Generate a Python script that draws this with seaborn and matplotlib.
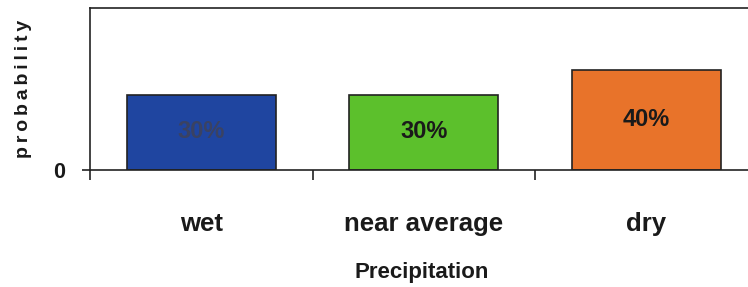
import matplotlib
matplotlib.use("Agg")
import matplotlib.pyplot as plt
import seaborn as sns
import pandas as pd

categories = ["wet", "near average", "dry"]
probabilities = [30, 30, 40]
bar_labels = ["30%", "30%", "40%"]
colors = ["#1f45a0", "#5cc02c", "#e8732a"]
label_colors = ["#3a4262", "#1a1a1a", "#1a1a1a"]

sns.set_theme(style="white")
plt.rcParams['font.family'] = ['Liberation Sans', 'DejaVu Sans']

df = pd.DataFrame({"cat": categories, "p": probabilities})

fig = plt.figure(figsize=(7.48, 2.87), dpi=100)
ax = fig.add_axes([90/748, 117/287, 667.5/748, 162/287])

sns.barplot(data=df, x="cat", y="p", hue="cat", palette=colors, legend=False,
            width=0.67, edgecolor="#222222", linewidth=1.2, saturation=1, ax=ax)

ax.set_xlim(-0.5, 2.5)
ax.set_ylim(0, 65)

for i, (v, t) in enumerate(zip(probabilities, bar_labels)):
    ax.text(i, v * 0.51, t, ha="center", va="center", fontsize=17,
            fontweight="bold", color=label_colors[i])

for s in ["left", "top", "bottom", "right"]:
    ax.spines[s].set_visible(True)
    ax.spines[s].set_color("#222222")
    ax.spines[s].set_linewidth(1.2)

ax.set_xticks([-0.5, 0.5, 1.5, 2.5])
ax.set_xticklabels([])
ax.tick_params(axis="x", which="major", direction="out", length=7.5, width=1.2,
               color="#222222", bottom=True)
ax.set_xticks([0, 1, 2], minor=True)
ax.set_xticklabels(categories, minor=True, fontsize=18.5, fontweight="bold",
                   color="#1a1a1a")
ax.tick_params(axis="x", which="minor", length=0, pad=30)

ax.set_yticks([0])
ax.set_yticklabels(["0"], fontsize=15.5, fontweight="bold", color="#1a1a1a")
ax.tick_params(axis="y", direction="out", length=6, width=1.2, color="#222222",
               left=True, pad=12)

ax.set_xlabel("Precipitation", fontsize=16, fontweight="bold", color="#1a1a1a")
ax.xaxis.set_label_coords(0.497, -0.635)
ax.xaxis.label.set_va("center")
ax.set_ylabel("p\u2009r\u2009o\u2009b\u2009a\u2009b\u2009i\u2009l\u2009i\u2009t\u2009y",
              fontsize=14, fontweight="bold", color="#1a1a1a")
ax.yaxis.set_label_coords(-0.100, 0.5)
ax.yaxis.label.set_va("center")

fig.savefig("out.png", dpi=100, facecolor="white")
